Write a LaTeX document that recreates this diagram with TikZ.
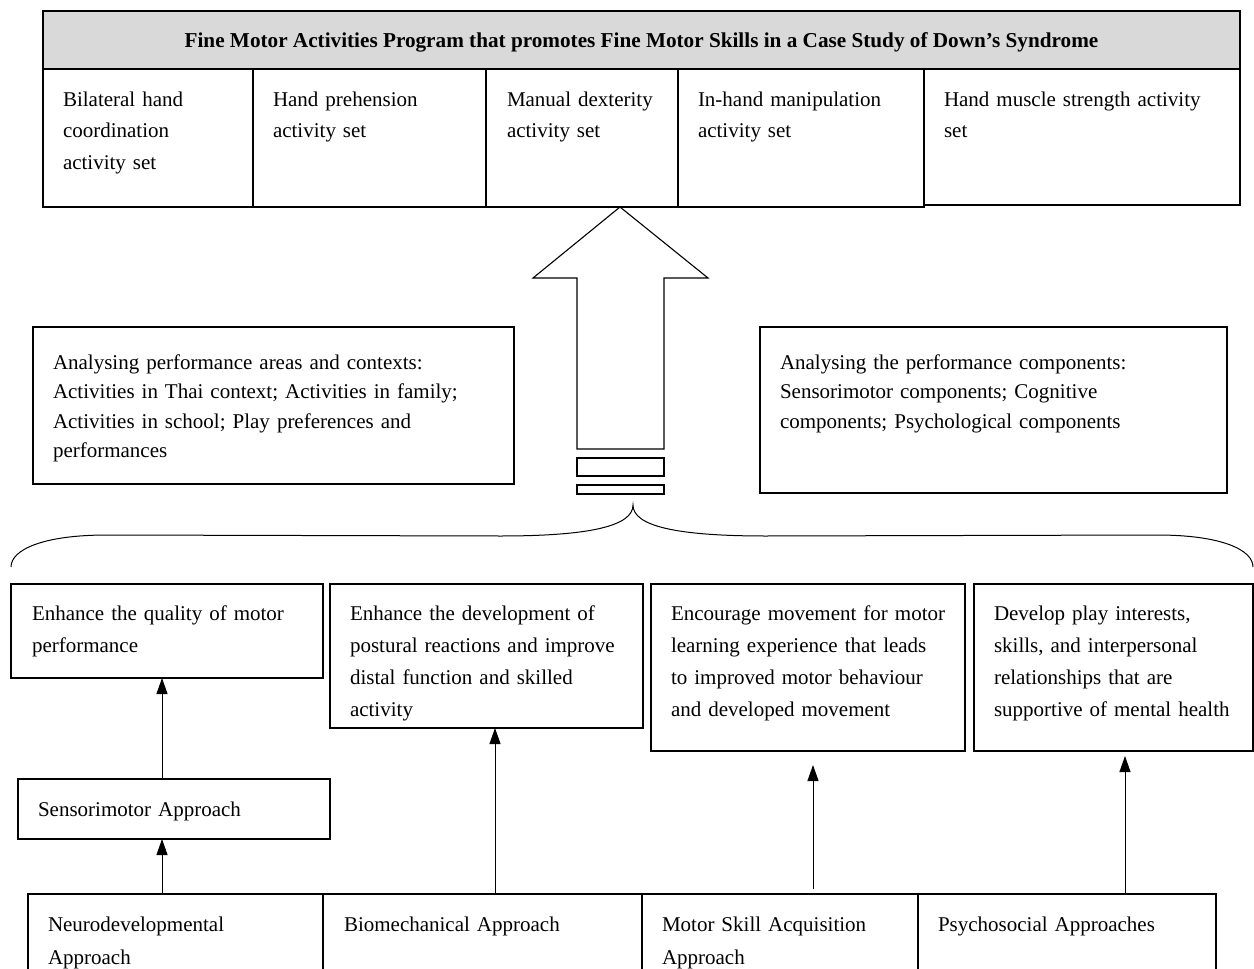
\documentclass[tikz,border=0pt]{standalone}
\usepackage{fontspec}
\setmainfont{Liberation Serif}
\usetikzlibrary{arrows.meta}
\definecolor{hdrgray}{HTML}{D9D9D9}
\tikzset{
  box/.style={draw=black, line width=1.1pt, inner sep=0pt, outer sep=0pt, anchor=north west},
  hold/.style={inner sep=0pt, outer sep=0pt, anchor=north west},
  txt/.style={anchor=base west, align=left, inner sep=0pt, outer sep=0pt},
  ls/.style={font=\fontsize{21}{#1}\selectfont},
  arr/.style={line width=1pt, -{Triangle[length=16pt,width=11pt]}},
  edge/.style={line width=1.1pt},
}
\begin{document}
\begin{tikzpicture}[x=1pt,y=-1pt]
\useasboundingbox (0,0) rectangle (1254,969);

% ---------- top table ----------
\node[box, fill=hdrgray, minimum width=1197pt, minimum height=58pt] (hdr) at (43,11) {};
\node[anchor=base, inner sep=0pt, font=\bfseries\fontsize{21.2}{25}\selectfont] (title) at (641.5,47)
  {Fine Motor Activities Program that promotes Fine Motor Skills in a Case Study of Down’s Syndrome};

\node[box, minimum width=210pt, minimum height=138pt] (c1) at (43,69) {};
\node[box, minimum width=233pt, minimum height=138pt] (c2) at (253,69) {};
\node[box, minimum width=192pt, minimum height=138pt] (c3) at (486,69) {};
\node[box, minimum width=246pt, minimum height=138pt] (c4) at (678,69) {};
\node[box, minimum width=316pt, minimum height=136pt] (c5) at (924,69) {};

\node[txt, text width=185pt, ls=31.7] (tc1) at (63,106) {Bilateral hand\\coordination\\activity set};
\node[txt, text width=205pt, ls=31.7] (tc2) at (273,106) {Hand prehension\\activity set};
\node[txt, text width=168pt, ls=31.7] (tc3) at (507,106) {Manual dexterity\\activity set};
\node[txt, text width=222pt, ls=31.7] (tc4) at (698,106) {In-hand manipulation\\activity set};
\node[txt, text width=290pt, ls=31.7] (tc5) at (944,106) {Hand muscle strength activity\\set};

% ---------- big arrow ----------
\coordinate (tip) at (620,207);
\draw[edge, line join=miter] (tip) -- (708,278) -- (664,278) -- (664,449) -- (577,449)
  -- (577,278) -- (533,278) -- cycle;
\node[box, minimum width=87pt, minimum height=18pt] (r1) at (577,458) {};
\node[box, minimum width=87pt, minimum height=9pt] (r2) at (577,485) {};

% ---------- analysis boxes ----------
\node[box, minimum width=481pt, minimum height=157pt] (la) at (33,327) {};
\node[txt, text width=455pt, ls=29.5] (tla) at (53,369)
  {Analysing performance areas and contexts:\\Activities in Thai context; Activities in family;\\Activities in school; Play preferences and\\performances};
\node[box, minimum width=467pt, minimum height=166pt] (ra) at (760,327) {};
\node[txt, text width=440pt, ls=29.5] (tra) at (780,369)
  {Analysing the performance components:\\Sensorimotor components; Cognitive\\components; Psychological components};

% ---------- brace ----------
\draw[line width=1pt] (11,567) .. controls (11,550) and (42,535) .. (107,535) -- (500,536)
  .. controls (590,536) and (633,526) .. (633,505)
  .. controls (633,526) and (676,536) .. (766,536) -- (1157,535)
  .. controls (1222,535) and (1253,550) .. (1253,567);

% ---------- second row ----------
\node[box, minimum width=312pt, minimum height=94pt] (b1) at (11,584) {};
\node[box, minimum width=313pt, minimum height=144pt] (b2) at (330,584) {};
\node[box, minimum width=314pt, minimum height=167pt] (b3) at (651,584) {};
\node[box, minimum width=279pt, minimum height=167pt] (b4) at (974,584) {};

\node[txt, text width=285pt, ls=32] (tb1) at (32,620) {Enhance the quality of motor\\performance};
\node[txt, text width=290pt, ls=32] (tb2) at (350,620) {Enhance the development of\\postural reactions and improve\\distal function and skilled\\activity};
\node[txt, text width=290pt, ls=32] (tb3) at (671,620) {Encourage movement for motor\\learning experience that leads\\to improved motor behaviour\\and developed movement};
\node[txt, text width=255pt, ls=32] (tb4) at (994,620) {Develop play interests,\\skills, and interpersonal\\relationships that are\\supportive of mental health};

% ---------- sensorimotor ----------
\node[box, minimum width=312pt, minimum height=60pt] (sens) at (18,779) {};
\node[txt, text width=285pt, ls=32] (tsens) at (38,816) {Sensorimotor Approach};

% ---------- bottom row ----------
\node[hold, minimum width=295pt, minimum height=75pt] (d1) at (28,894) {};
\node[hold, minimum width=319pt, minimum height=75pt] (d2) at (323,894) {};
\node[hold, minimum width=276pt, minimum height=75pt] (d3) at (642,894) {};
\node[hold, minimum width=298pt, minimum height=75pt] (d4) at (918,894) {};
\draw[edge] (d1.south west) -- (d1.north west) -- (d4.north east) -- (d4.south east);
\draw[edge] (d2.north west) -- (d2.south west);
\draw[edge] (d3.north west) -- (d3.south west);
\draw[edge] (d4.north west) -- (d4.south west);

\node[txt, text width=260pt, ls=33] (td1) at (48,931) {Neurodevelopmental\\Approach};
\node[txt, text width=290pt, ls=33] (td2) at (344,931) {Biomechanical Approach};
\node[txt, text width=250pt, ls=33] (td3) at (662,931) {Motor Skill Acquisition\\Approach};
\node[txt, text width=270pt, ls=33] (td4) at (938,931) {Psychosocial Approaches};

% ---------- connectors ----------
\coordinate (xa) at (162,0);
\coordinate (xb) at (495,0);
\coordinate (xc) at (813,0);
\coordinate (xd) at (1125,0);
\draw[arr] (d1.north -| xa) -- (sens.south -| xa);
\draw[arr] (sens.north -| xa) -- (b1.south -| xa);
\draw[arr] (d2.north -| xb) -- (b2.south -| xb);
\draw[arr, shorten <=5pt, shorten >=14pt] (d3.north -| xc) -- (b3.south -| xc);
\draw[arr, shorten >=5pt] (d4.north -| xd) -- (b4.south -| xd);
\end{tikzpicture}
\end{document}
